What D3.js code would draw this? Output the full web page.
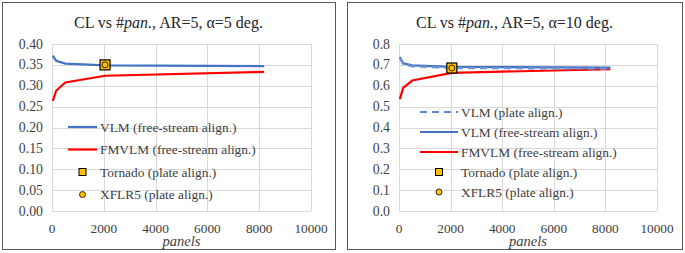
<!DOCTYPE html>
<html>
<head>
<meta charset="utf-8">
<script src="https://cdn.jsdelivr.net/npm/d3@7"></script>
<style>
  body { margin: 0; background: #fff; }
  svg { display: block; }
</style>
</head>
<body>
<svg id="chart" width="685" height="253"></svg>
<script>
const panels = [32, 160, 512, 2048, 8192];
const xTicks = [0, 2000, 4000, 6000, 8000, 10000];

// alpha = 5 deg
const vlmFree5 = [0.372, 0.360, 0.353, 0.349, 0.347];
const fmvlm5 = [0.264, 0.288, 0.308, 0.324, 0.333];
const tornado5 = [[2048, 0.350]];
const xflr5_5 = [[2048, 0.350]];
const yTicks5 = [0, 0.05, 0.10, 0.15, 0.20, 0.25, 0.30, 0.35, 0.40];

// alpha = 10 deg
const vlmPlate10 = [0.733, 0.704, 0.693, 0.685, 0.682];
const vlmFree10 = [0.737, 0.708, 0.698, 0.690, 0.687];
const fmvlm10 = [0.536, 0.590, 0.625, 0.662, 0.679];
const tornado10 = [[2048, 0.685]];
const xflr5_10 = [[2048, 0.685]];
const yTicks10 = [0, 0.1, 0.2, 0.3, 0.4, 0.5, 0.6, 0.7, 0.8];

const blue = "#4472c4", red = "#ff0000", gold = "#ffc000";
const serif = "Liberation Serif";
const svg = d3.select("#chart");

function drawPanel(p) {
    const g = svg.append("g");
    g.append("rect")
        .attr("x", p.box[0] + 0.5).attr("y", 2.5)
        .attr("width", p.box[1] - p.box[0]).attr("height", 247)
        .attr("fill", "#fff").attr("stroke", "#595959").attr("stroke-width", 1);

    const x = d3.scaleLinear().domain([0, 10000]).range([p.left, p.right]);
    const y = d3.scaleLinear().domain([0, p.yMax]).range([211, 44]);

    // grid
    g.append("g").selectAll("line").data(p.yTicks).join("line")
        .attr("x1", p.left).attr("x2", p.right)
        .attr("y1", d => Math.round(y(d)) + 0.5).attr("y2", d => Math.round(y(d)) + 0.5)
        .attr("stroke", "#d9d9d9");
    g.append("g").selectAll("line").data(xTicks).join("line")
        .attr("x1", d => Math.round(x(d)) + 0.5).attr("x2", d => Math.round(x(d)) + 0.5)
        .attr("y1", 44).attr("y2", 211)
        .attr("stroke", "#d9d9d9");

    // tick labels
    g.append("g").selectAll("text").data(p.yTicks).join("text")
        .attr("font-family", serif)
        .attr("x", p.left - 9).attr("y", d => y(d) + 4.5)
        .attr("text-anchor", "end").attr("font-size", 13.8).attr("fill", "#404040")
        .text(d => d3.format(p.yFmt)(d));
    g.append("g").selectAll("text").data(xTicks).join("text")
        .attr("font-family", serif)
        .attr("x", d => x(d)).attr("y", 233)
        .attr("text-anchor", "middle").attr("font-size", 13.3).attr("fill", "#404040")
        .text(d => d);
    g.append("text")
        .attr("font-family", serif)
        .attr("x", (p.left + p.right) / 2).attr("y", 246)
        .attr("text-anchor", "middle").attr("font-size", 14.5).attr("font-style", "italic")
        .attr("fill", "#404040").text("panels");

    // title
    const t = g.append("text")
        .attr("font-family", serif)
        .attr("x", (p.box[0] + p.box[1]) / 2).attr("y", 28)
        .attr("text-anchor", "middle").attr("font-size", 16).attr("fill", "#262626");
    t.append("tspan").text("CL vs #");
    t.append("tspan").attr("font-style", "italic").text("pan.");
    t.append("tspan").text(p.title);

    const line = d3.line().x((d, i) => x(panels[i])).y(d => y(d));
    p.series.forEach(s => {
        g.append("path").datum(s.values)
            .attr("fill", "none").attr("stroke", s.color).attr("stroke-width", 2.2)
            .attr("stroke-dasharray", s.dash || null)
            .attr("d", line);
    });

    // markers
    g.append("g").selectAll("rect").data(p.tornado).join("rect")
        .attr("x", d => x(d[0]) - 5).attr("y", d => y(d[1]) - 5)
        .attr("width", 10).attr("height", 10)
        .attr("fill", gold).attr("stroke", "#000").attr("stroke-width", 1.2);
    g.append("g").selectAll("circle").data(p.xflr).join("circle")
        .attr("cx", d => x(d[0])).attr("cy", d => y(d[1])).attr("r", 3)
        .attr("fill", gold).attr("stroke", "#000").attr("stroke-width", 0.8);

    // legend
    const lg = g.append("g");
    p.legend.forEach((item, i) => {
        const cy = p.legY + i * p.legStep;
        if (item.type === "line") {
            lg.append("line")
                .attr("x1", p.legX).attr("x2", p.legX + p.legW)
                .attr("y1", cy).attr("y2", cy)
                .attr("stroke", item.color).attr("stroke-width", 2.2)
                .attr("stroke-dasharray", item.dash || null);
        } else if (item.type === "square") {
            lg.append("rect")
                .attr("x", p.legX + p.legW / 2 - 3.5).attr("y", cy - 3.5)
                .attr("width", 7).attr("height", 7)
                .attr("fill", gold).attr("stroke", "#000").attr("stroke-width", 1);
        } else {
            lg.append("circle")
                .attr("cx", p.legX + p.legW / 2).attr("cy", cy).attr("r", 3)
                .attr("fill", gold).attr("stroke", "#000").attr("stroke-width", 0.8);
        }
        lg.append("text")
            .attr("font-family", serif)
            .attr("x", p.legX + p.legW + 3).attr("y", cy + 4.5)
            .attr("font-size", 13.4).attr("fill", "#404040")
            .text(item.label);
    });
}

drawPanel({
    box: [2, 335], left: 52, right: 311, yMax: 0.4, yTicks: yTicks5, yFmt: ".2f",
    title: ", AR=5, \u03b1=5 deg.",
    series: [{values: fmvlm5, color: red}, {values: vlmFree5, color: blue}],
    tornado: tornado5, xflr: xflr5_5,
    legX: 68, legW: 29, legY: 127, legStep: 22.5,
    legend: [
        {type: "line", color: blue, label: "VLM (free-stream align.)"},
        {type: "line", color: red, label: "FMVLM (free-stream align.)"},
        {type: "square", label: "Tornado (plate align.)"},
        {type: "circle", label: "XFLR5 (plate align.)"}
    ]
});

drawPanel({
    box: [347, 682], left: 399, right: 657, yMax: 0.8, yTicks: yTicks10, yFmt: ".1f",
    title: ", AR=5, \u03b1=10 deg.",
    series: [{values: fmvlm10, color: red}, {values: vlmFree10, color: blue},
             {values: vlmPlate10, color: "#6f94d6", dash: "7,5"}],
    tornado: tornado10, xflr: xflr5_10,
    legX: 420, legW: 38, legY: 112, legStep: 20,
    legend: [
        {type: "line", color: "#5b85d0", dash: "7,5", label: "VLM (plate align.)"},
        {type: "line", color: blue, label: "VLM (free-stream align.)"},
        {type: "line", color: red, label: "FMVLM (free-stream align.)"},
        {type: "square", label: "Tornado (plate align.)"},
        {type: "circle", label: "XFLR5 (plate align.)"}
    ]
});
</script>
</body>
</html>
